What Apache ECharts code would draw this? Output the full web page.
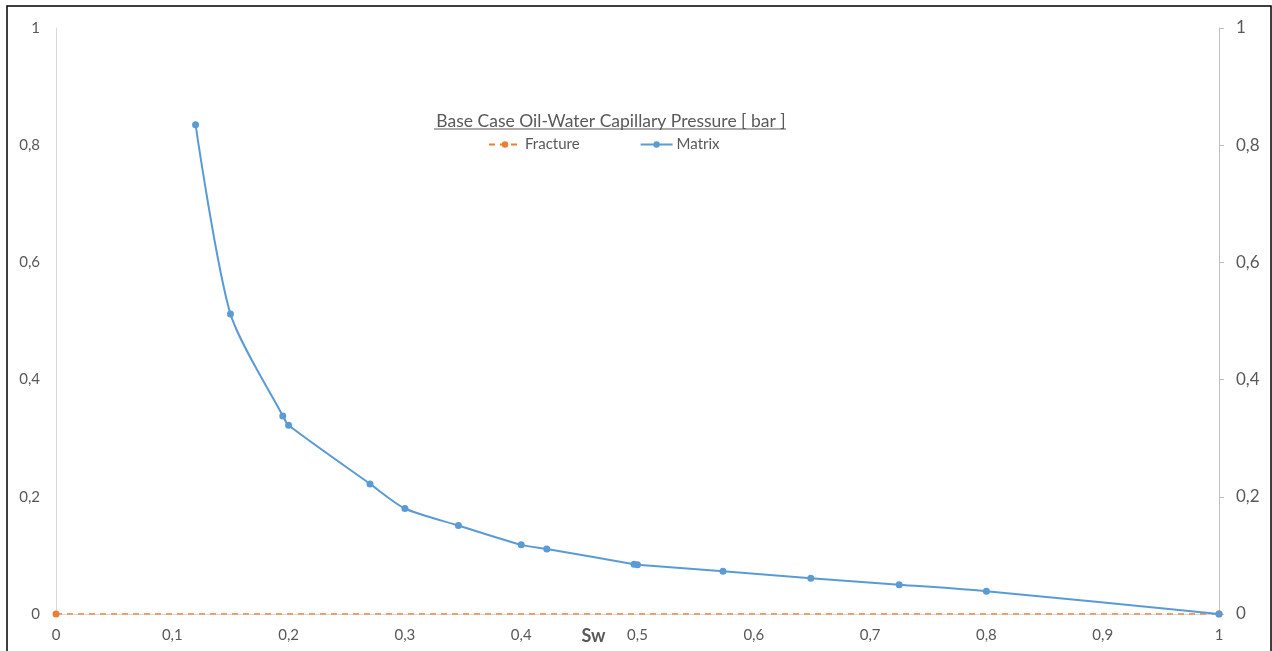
<!DOCTYPE html>
<html>
<head>
<meta charset="utf-8">
<script src="https://cdn.jsdelivr.net/npm/echarts@6/dist/echarts.min.js"></script>
<style>html,body{margin:0;padding:0;background:#fff}#c{width:1272px;height:651px}</style>
</head>
<body>
<div id="c"></div>
<script>
const titleText = 'Base Case Oil-Water Capillary Pressure [ bar ]';
const seriesNames = ['Fracture', 'Matrix'];
const fractureSw = [0, 1];
const fracturePc = [0, 0];
const matrixSw = [0.12, 0.15, 0.195, 0.2, 0.27, 0.3, 0.346, 0.4, 0.422, 0.497, 0.5, 0.5735, 0.649, 0.725, 0.8, 1];
const matrixPc = [0.835, 0.512, 0.338, 0.322, 0.222, 0.180, 0.151, 0.118, 0.111, 0.085, 0.084, 0.073, 0.061, 0.050, 0.039, 0];
const xTicks = [0, 0.1, 0.2, 0.3, 0.4, 0.5, 0.6, 0.7, 0.8, 0.9, 1];
const yTicks = [0, 0.2, 0.4, 0.6, 0.8, 1];

const fmt = v => String(Number(v.toFixed(3))).replace('.', ',');
const font = 'Lato, "Open Sans", sans-serif';
const grey = '#595959';

const chart = echarts.init(document.getElementById('c'), null, {renderer: 'canvas'});
chart.setOption({
  animation: false,
  backgroundColor: '#fff',
  title: {
    text: titleText,
    left: 606, textAlign: 'center', top: 107,
    textStyle: {fontFamily: font, fontSize: 17.5, fontWeight: 'normal', color: grey}
  },
  legend: {
    data: seriesNames,
    left: 483, top: 132,
    itemWidth: 32, itemHeight: 8, itemGap: 60,
    textStyle: {fontFamily: font, fontSize: 15, color: grey, padding: [0, 0, 0, -1]}
  },
  grid: {left: 56, right: 53, top: 28, bottom: 37, outerBoundsMode: 'none', containLabel: false},
  xAxis: {
    type: 'value', min: 0, max: 1, interval: 0.1,
    name: 'Sw', nameLocation: 'middle', nameGap: 13, nameMoveOverlap: false,
    nameTextStyle: {fontFamily: font, fontSize: 18, fontWeight: 'bold', color: grey,
      padding: [0, 88, 0, 0], verticalAlign: 'top'},
    axisLine: {show: true, onZero: false, lineStyle: {color: '#d9d9d9', width: 1}},
    axisTick: {show: false},
    splitLine: {show: false},
    axisLabel: {fontFamily: font, fontSize: 15, color: grey, margin: 14, formatter: fmt,
      customValues: xTicks}
  },
  yAxis: [{
    type: 'value', min: 0, max: 1, interval: 0.2, position: 'left',
    axisLine: {show: true, lineStyle: {color: '#d9d9d9', width: 1}},
    axisTick: {show: false},
    splitLine: {show: false},
    axisLabel: {fontFamily: font, fontSize: 15, color: grey, margin: 16, formatter: fmt, customValues: yTicks}
  }, {
    type: 'value', min: 0, max: 1, interval: 0.2, position: 'right',
    axisLine: {show: true, lineStyle: {color: '#bfbfbf', width: 1}},
    axisTick: {show: true, inside: false, length: 5, lineStyle: {color: '#bfbfbf'}},
    splitLine: {show: false},
    axisLabel: {fontFamily: font, fontSize: 17, color: grey, margin: 17, formatter: fmt, customValues: yTicks}
  }],
  series: [{
    name: seriesNames[0], type: 'line', yAxisIndex: 0,
    data: fractureSw.map((x, i) => [x, fracturePc[i]]),
    symbol: 'circle', symbolSize: 7, showAllSymbol: true,
    itemStyle: {color: '#ed7d31'},
    lineStyle: {color: '#ed7d31', width: 1.5, type: [6, 5]},
    z: 2
  }, {
    name: seriesNames[1], type: 'line', yAxisIndex: 0,
    data: matrixSw.map((x, i) => [x, matrixPc[i]]),
    smooth: 0.25,
    symbol: 'circle', symbolSize: 7, showAllSymbol: true,
    itemStyle: {color: '#5b9bd5'},
    lineStyle: {color: '#5b9bd5', width: 2},
    z: 3
  }],
  graphic: [{
    type: 'rect', shape: {x: 7, y: 6, width: 1264, height: 670},
    style: {fill: 'none', stroke: '#000', lineWidth: 1.5}, silent: true
  }, {
    type: 'line', shape: {x1: 434, y1: 129, x2: 786, y2: 129},
    style: {stroke: grey, lineWidth: 1}, silent: true
  }]
});
</script>
</body>
</html>
